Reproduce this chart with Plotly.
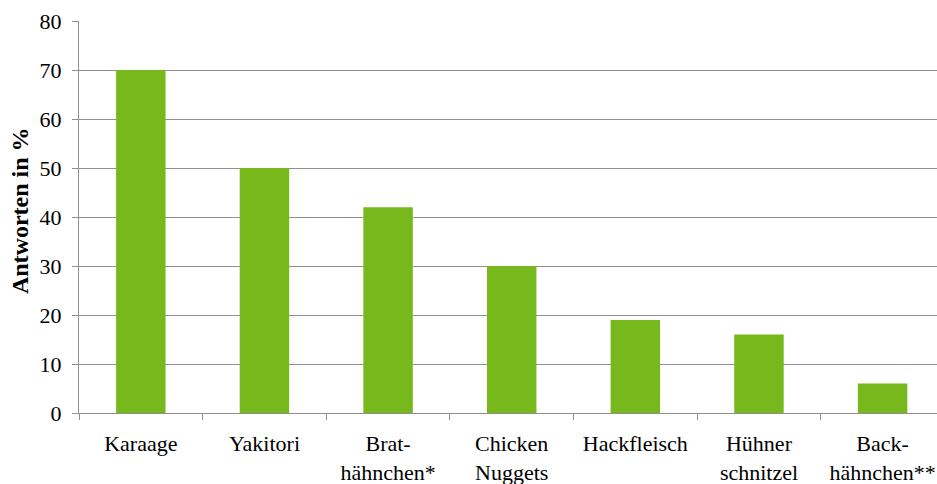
import plotly.graph_objects as go

categories = ["Karaage", "Yakitori", "Brat-<br>hähnchen*", "Chicken<br>Nuggets",
              "Hackfleisch", "Hühner<br>schnitzel", "Back-<br>hähnchen**"]
values = [70, 50, 42, 30, 19, 16, 6]
y_ticks = [0, 10, 20, 30, 40, 50, 60, 70, 80]

FONT = "'Liberation Serif', 'Times New Roman', Times, serif"
GRID = "#8f8f8f"
SIZE = 22

fig = go.Figure(go.Bar(
    x=categories,
    y=values,
    marker=dict(color="#77b81c", line=dict(width=0)),
    hoverinfo="skip",
))

fig.update_layout(
    width=937, height=484,
    margin=dict(l=79, r=0, t=21, b=71),
    paper_bgcolor="white", plot_bgcolor="white",
    bargap=0.6,
    showlegend=False,
    font=dict(family=FONT, size=SIZE, color="black"),
)

fig.update_xaxes(
    type="category",
    range=[-0.5, 6.44],
    showgrid=False,
    showline=True, linecolor=GRID, linewidth=1,
    ticks="outside", ticklen=6, tickcolor=GRID, tickson="boundaries",
    ticklabelstandoff=11,
    tickfont=dict(family=FONT, size=SIZE, color="black"),
    zeroline=False,
)

fig.update_yaxes(
    range=[0, 80],
    tickvals=y_ticks,
    showgrid=True, gridcolor=GRID, gridwidth=1,
    showline=True, linecolor=GRID, linewidth=1,
    ticks="outside", ticklen=6, tickcolor=GRID,
    ticklabelstandoff=6,
    tickfont=dict(family=FONT, size=SIZE, color="black"),
    zeroline=False,
)

# Rotated y-axis caption
fig.add_annotation(
    text="<b>Antworten in %</b>",
    xref="paper", yref="paper", x=0, y=0.515,
    xshift=-59, xanchor="center", yanchor="middle",
    textangle=-90, showarrow=False,
    font=dict(family=FONT, size=24, color="black"),
)

fig.write_html("out.html")
